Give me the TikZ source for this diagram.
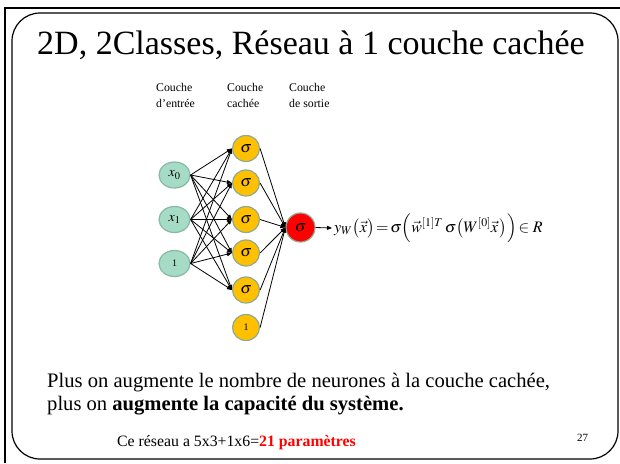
\documentclass[tikz,border=0pt]{standalone}
\usepackage{mathptmx}
\usepackage{fontspec}
\setmainfont{Liberation Serif}
\usetikzlibrary{arrows.meta,shapes.geometric}
\definecolor{inpfill}{HTML}{A6DCC6}
\definecolor{inpline}{HTML}{86B8A2}
\definecolor{hidfill}{HTML}{FFC000}
\definecolor{hidline}{HTML}{8EAA92}
\definecolor{outfill}{HTML}{FF0000}
\definecolor{pred}{HTML}{FF0000}
\begin{document}
\begin{tikzpicture}[x=1pt,y=-1pt,
  inpnode/.style={ellipse, draw=inpline, fill=inpfill, line width=1.2pt, minimum width=31pt, minimum height=26pt, inner sep=0pt, font=\fontsize{14}{14}\selectfont},
  hidnode/.style={ellipse, draw=hidline, fill=hidfill, line width=1.2pt, minimum width=27pt, minimum height=26pt, inner sep=0pt, font=\fontsize{16}{16}\selectfont},
  outnode/.style={circle, draw=hidline, fill=outfill, line width=1.2pt, minimum size=29pt, inner sep=0pt, font=\fontsize{16}{16}\selectfont},
  conn/.style={line width=0.8pt, -{Triangle[length=5pt,width=4pt]}},
  lbl/.style={align=left, font=\fontsize{11.8}{16}\selectfont, anchor=north west, inner sep=0pt}
]
\useasboundingbox (0,0) rectangle (620,463);
\draw[line width=1.5pt] (5,463) -- (5,8) -- (620,8);
\draw[line width=1.2pt, rounded corners=28pt] (12,13) rectangle (618,459);

\node[font=\fontsize{34}{34}\selectfont] (title) at (311,45) {2D, 2Classes, Réseau à 1 couche cachée};

\node[lbl] (l1) at (156,83) {Couche\\d’entrée};
\node[lbl] (l2) at (227,83) {Couche\\cachée};
\node[lbl] (l3) at (289,83) {Couche\\de sortie};

\node[inpnode] (i0) at (174.5,175) {$x_0$};
\node[inpnode] (i1) at (174.5,219.5) {$x_1$};
\node[inpnode] (i2) at (174.5,263.5) {\fontsize{10}{10}\selectfont 1};

\node[hidnode] (h1) at (246,148.5) {$\sigma$};
\node[hidnode] (h2) at (246,183) {$\sigma$};
\node[hidnode] (h3) at (246,219.5) {$\sigma$};
\node[hidnode] (h4) at (246,253) {$\sigma$};
\node[hidnode] (h5) at (246,290) {$\sigma$};
\node[hidnode] (h6) at (246,327.5) {\fontsize{10}{10}\selectfont 1};

\node[outnode] (o) at (300.5,227.5) {$\sigma$};

\foreach \i in {i0,i1,i2}{
  \foreach \h in {h1,h2,h3,h4,h5}{
    \draw[conn] (\i.east) -- (\h.west);
  }
}
\foreach \h in {h1,h2,h3,h4,h5,h6}{
  \draw[conn] (\h.east) -- (o.west);
}

\node[anchor=west, inner sep=0pt, font=\fontsize{16}{16}\selectfont] (f) at (334,228)
  {$y_W\bigl(\vec{x}\bigr)\!=\!\sigma\Bigl(\vec{w}^{[1]T}\,\sigma\bigl(W^{[0]}\vec{x}\,\bigr)\Bigr)\!\in R$};
\draw[conn] (o.east) -- ([xshift=-2pt]f.west);

\node[anchor=west, inner sep=0pt, font=\fontsize{20.6}{23}\selectfont, align=left] (p) at (47,394)
  {Plus on augmente le nombre de neurones à la couche cachée,\\plus on \textbf{augmente la capacité du système.}};

\node[anchor=west, inner sep=0pt, font=\fontsize{15.8}{15.8}\selectfont] (c) at (117,443)
  {Ce réseau a 5x3+1x6=\textcolor{pred}{\textbf{21 paramètres}}};
\node[anchor=west, inner sep=0pt, font=\fontsize{11}{11}\selectfont] (n) at (577,438) {27};
\end{tikzpicture}
\end{document}
